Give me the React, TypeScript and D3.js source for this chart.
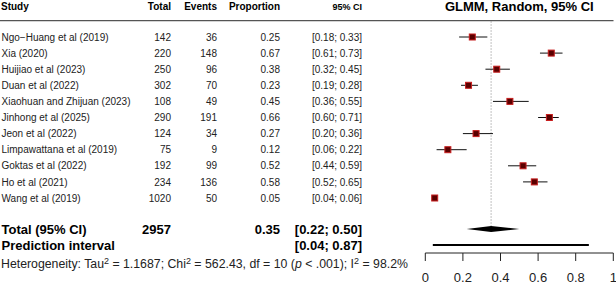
import React from "react";
import * as d3 from "d3";

const studies = [
  "Ngo\u2212Huang et al (2019)",
  "Xia (2020)",
  "Huijiao et al (2023)",
  "Duan et al (2022)",
  "Xiaohuan and Zhijuan (2023)",
  "Jinhong et al (2025)",
  "Jeon et al (2022)",
  "Limpawattana et al (2019)",
  "Goktas et al (2022)",
  "Ho et al (2021)",
  "Wang et al (2019)",
];
const totals = [142, 220, 250, 302, 108, 290, 124, 75, 192, 234, 1020];
const events = [36, 148, 96, 70, 49, 191, 34, 9, 99, 136, 50];
const proportions = [0.25, 0.67, 0.38, 0.23, 0.45, 0.66, 0.27, 0.12, 0.52, 0.58, 0.05];
const ciLow = [0.18, 0.61, 0.32, 0.19, 0.36, 0.6, 0.2, 0.06, 0.44, 0.52, 0.04];
const ciHigh = [0.33, 0.73, 0.45, 0.28, 0.55, 0.71, 0.36, 0.22, 0.59, 0.65, 0.06];

const pooled = { total: 2957, est: 0.35, lo: 0.22, hi: 0.5 };
const prediction = { lo: 0.04, hi: 0.87 };
const axisTicks = [0, 0.2, 0.4, 0.6, 0.8, 1];

const FONT = "'Liberation Sans', Arial, sans-serif";

export default function App() {
  const W = 616;
  const H = 283;
  const x = d3.scaleLinear().domain([0, 1]).range([425.3, 613.3]);
  const y = d3.scaleLinear().domain([0, studies.length - 1]).range([37, 198]);
  const fmt2 = d3.format(".2f");
  const ci = (a: number, b: number) => `[${fmt2(a)}; ${fmt2(b)}]`;
  const totalY = 229;
  const predY = 245;
  const axisY = 253;
  const sq = 6;

  const diamond = [
    [x(pooled.lo), totalY],
    [x(pooled.est), totalY - 3],
    [x(pooled.hi), totalY],
    [x(pooled.est), totalY + 3],
  ];

  return (
    <svg
      width={W}
      height={H}
      style={{ position: "absolute", left: 0, top: 0, background: "#fff" }}
      fontFamily={FONT}
    >
      {/* headers */}
      <g fontWeight="bold" fontSize={10} fill="#000">
        <text x={1} y={9.5}>Study</text>
        <text x={171} y={9.5} textAnchor="end">Total</text>
        <text x={217} y={9.5} textAnchor="end">Events</text>
        <text x={280} y={9.5} textAnchor="end">Proportion</text>
        <text x={362} y={9.5} textAnchor="end" fontSize={9}>95% CI</text>
        <text x={(x(0) + x(1)) / 2} y={10.5} textAnchor="middle" fontSize={13}>
          GLMM, Random, 95% CI
        </text>
      </g>
      <line x1={0} x2={613.5} y1={20.7} y2={20.7} stroke="#555" strokeWidth={1.3} />

      {/* reference line */}
      <line
        x1={x(pooled.est)}
        x2={x(pooled.est)}
        y1={21.5}
        y2={totalY}
        stroke="#666"
        strokeWidth={0.8}
        strokeDasharray="1,2"
      />

      {/* study rows */}
      <g fontSize={10} fill="#222">
        {studies.map((s, i) => {
          const cy = y(i);
          const by = cy + 3.6;
          return (
            <g key={s}>
              <text x={1.5} y={by}>{s}</text>
              <text x={171} y={by} textAnchor="end">{totals[i]}</text>
              <text x={217} y={by} textAnchor="end">{events[i]}</text>
              <text x={280} y={by} textAnchor="end">{fmt2(proportions[i])}</text>
              <text x={362} y={by} textAnchor="end">{ci(ciLow[i], ciHigh[i])}</text>
              <line x1={x(ciLow[i])} x2={x(ciHigh[i])} y1={cy} y2={cy} stroke="#111" strokeWidth={1} />
              <rect
                x={x(proportions[i]) - sq / 2}
                y={cy - sq / 2}
                width={sq}
                height={sq}
                fill="#5a0000"
                stroke="#c81e1e"
                strokeWidth={1}
              />
            </g>
          );
        })}
      </g>

      {/* pooled */}
      <g fontWeight="bold" fontSize={13} fill="#000">
        <text x={1.5} y={totalY + 4.6}>Total (95% CI)</text>
        <text x={171} y={totalY + 4.6} textAnchor="end">{pooled.total}</text>
        <text x={280} y={totalY + 4.6} textAnchor="end">{fmt2(pooled.est)}</text>
        <text x={362} y={totalY + 4.6} textAnchor="end">{ci(pooled.lo, pooled.hi)}</text>
        <text x={1.5} y={predY + 4.6}>Prediction interval</text>
        <text x={362} y={predY + 4.6} textAnchor="end">{ci(prediction.lo, prediction.hi)}</text>
      </g>
      <polygon points={diamond.map((p) => p.join(",")).join(" ")} fill="#000" />
      <line x1={x(prediction.lo)} x2={x(prediction.hi)} y1={predY} y2={predY} stroke="#000" strokeWidth={2} />

      {/* heterogeneity */}
      <text x={1} y={268.3} fontSize={12.3} fill="#222">
        Heterogeneity: Tau
        <tspan dy={-4.5} fontSize={9}>2</tspan>
        <tspan dy={4.5}> = 1.1687; Chi</tspan>
        <tspan dy={-4.5} fontSize={9}>2</tspan>
        <tspan dy={4.5}> = 562.43, df = 10 (</tspan>
        <tspan fontStyle="italic">p</tspan>
        <tspan> &lt; .001); I</tspan>
        <tspan dy={-4.5} fontSize={9}>2</tspan>
        <tspan dy={4.5}> = 98.2%</tspan>
      </text>

      {/* axis */}
      <line x1={x(0)} x2={x(1)} y1={axisY} y2={axisY} stroke="#222" strokeWidth={1} />
      {axisTicks.map((t) => (
        <g key={t}>
          <line x1={x(t)} x2={x(t)} y1={axisY} y2={axisY + 8} stroke="#222" strokeWidth={1} />
          <text x={x(t)} y={281.5} textAnchor="middle" fontSize={13} fill="#222">
            {d3.format("~g")(t)}
          </text>
        </g>
      ))}
    </svg>
  );
}
